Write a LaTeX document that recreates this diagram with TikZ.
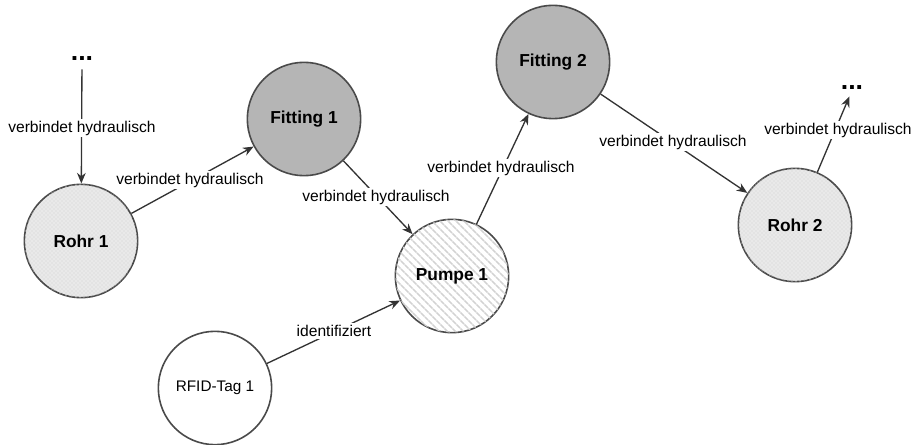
\documentclass[tikz,border=0pt]{standalone}
\usepackage{fontspec}
\setmainfont{Liberation Sans}
\usetikzlibrary{arrows.meta,patterns,patterns.meta}
\definecolor{linec}{HTML}{333333}
\definecolor{rimc}{HTML}{4A4A4A}
\definecolor{fitc}{HTML}{B5B5B5}
\tikzset{
  obj/.style={circle,draw=rimc,line width=1.2pt,minimum size=85pt,inner sep=0pt,
              font=\fontsize{13}{15}\selectfont\bfseries},
  fitting/.style={obj,fill=fitc},
  rohr/.style={obj,fill=gray!22,postaction={pattern=crosshatch dots,pattern color=white}},
  pumpe/.style={obj,fill=white,postaction={pattern={Lines[angle=-45,distance=4pt,line width=1.3pt]},pattern color=gray!35}},
  tag/.style={obj,fill=white,font=\fontsize{11.5}{14}\selectfont},
  conn/.style={draw=linec,line width=1pt,-{Stealth[length=8pt,width=6.5pt]}},
  lbl/.style={fill=white,inner sep=1.5pt,font=\fontsize{11.7}{14}\selectfont},
  more/.style={inner sep=0pt,anchor=base,font=\fontsize{20}{22}\selectfont\bfseries}
}
\begin{document}
\begin{tikzpicture}[x=0.75pt,y=-0.75pt]
  \useasboundingbox (0,0) rectangle (915,445);
  \clip (0,0) rectangle (915,445);

  % objects
  \node[rohr]    (rohr1) at (81,241)  {Rohr 1};
  \node[fitting] (fit1)  at (304,119) {Fitting 1};
  \node[pumpe]   (pump1) at (452,276) {Pumpe 1};
  \node[fitting] (fit2)  at (553,62)  {Fitting 2};
  \node[rohr]    (rohr2) at (795,225) {Rohr 2};
  \node[tag]     (rfid)  at (215,388) {RFID-Tag 1};

  % continuation marks
  \node[more] (dots1) at (82,61) {...};
  \node[more] (dots2) at (852,90) {...};

  % relations
  \draw[conn,shorten <=6pt] (dots1.south) -- (rohr1);
  \draw[conn] (rohr1) -- (fit1);
  \draw[conn] (fit1) -- (pump1);
  \draw[conn] (pump1) -- (fit2);
  \draw[conn] (fit2) -- (rohr2);
  \draw[conn,shorten >=5pt] (rohr2) -- (dots2.south);
  \draw[conn] (rfid) -- (pump1);

  % relation labels
  \node[lbl] (l1) at (82,128)  {verbindet hydraulisch};
  \node[lbl] (l2) at (190,180) {verbindet hydraulisch};
  \node[lbl] (l3) at (376,197) {verbindet hydraulisch};
  \node[lbl] (l4) at (501,168) {verbindet hydraulisch};
  \node[lbl] (l5) at (673,142) {verbindet hydraulisch};
  \node[lbl,anchor=west] (l6) at (762,130) {verbindet hydraulisch};
  \node[lbl] (l7) at (334,331) {identifiziert};
\end{tikzpicture}
\end{document}
